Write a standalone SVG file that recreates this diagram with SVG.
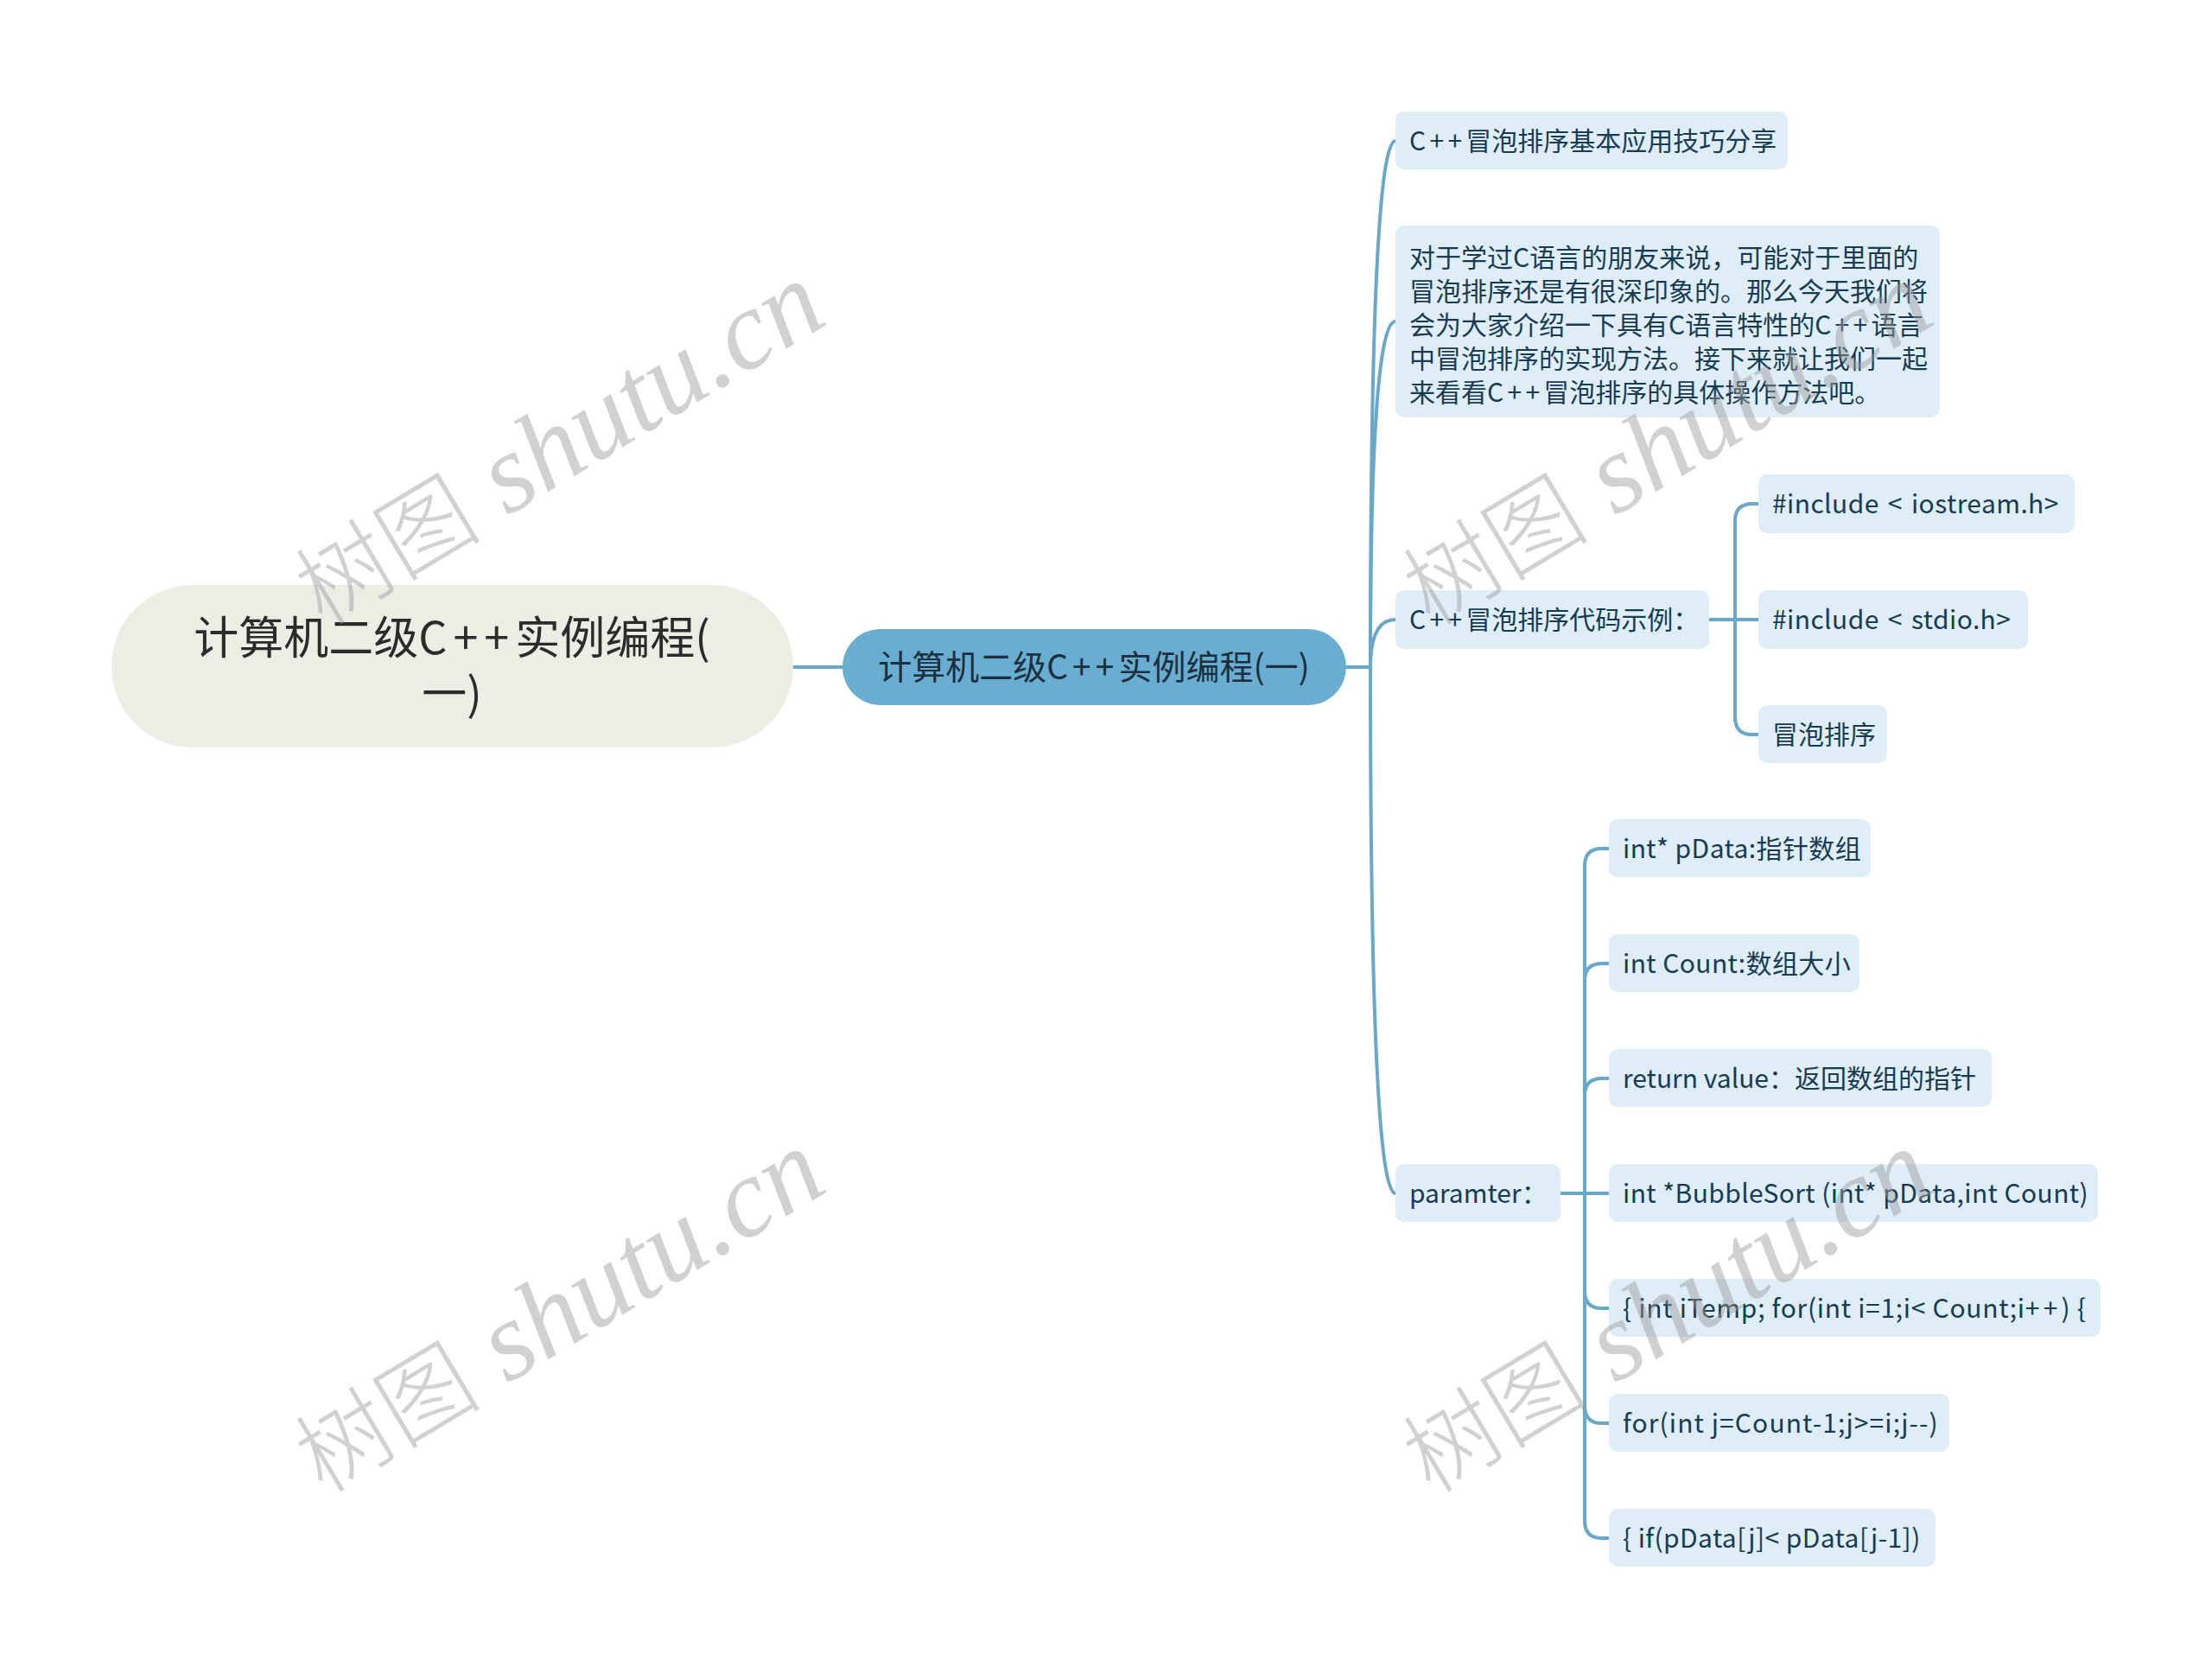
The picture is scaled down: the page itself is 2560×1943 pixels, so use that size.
<svg xmlns="http://www.w3.org/2000/svg" width="2560" height="1943" viewBox="0 0 2560 1943">
<style>
.bg{fill:#ffffff}
.conn{fill:none;stroke:#6aa8ca;stroke-width:4;stroke-linecap:round}
.box{fill:#deedf6}
.t{font-family:"Noto Sans CJK SC","Noto Sans",sans-serif;font-size:30px;fill:#173b52}
.lat{letter-spacing:0.4px}
.pp{letter-spacing:4.3px}
.root{fill:#eeede5}
.roott{font-family:"Noto Sans CJK SC","Noto Sans",sans-serif;font-size:52px;fill:#2b2b2b;text-anchor:middle}
.rpp{letter-spacing:7px}
.main{fill:#69aed0}
.maint{font-family:"Noto Sans CJK SC","Noto Sans",sans-serif;font-size:39px;fill:#1c2f40;text-anchor:middle}
.mpp{letter-spacing:5px}
.wm{fill:#9a9a9a;opacity:0.45;text-anchor:middle}
.wmc{font-family:"Noto Sans CJK SC",serif;font-size:108px;font-weight:300}
.wml{font-family:"Liberation Serif",serif;font-style:italic;font-size:130px}
</style>
<rect class="bg" x="0" y="0" width="2560" height="1943"/>
<g id="connectors">
<path class="conn" d="M917 772 H975"/>
<path class="conn" d="M1557 772 H1586 Q1586 163 1615 163"/>
<path class="conn" d="M1586 772 Q1586 372 1615 372"/>
<path class="conn" d="M1586 772 Q1586 717 1615 717"/>
<path class="conn" d="M1586 772 Q1586 1381 1615 1381"/>
<path class="conn" d="M1978 717 H2036"/>
<path class="conn" d="M2008 717 V603 Q2008 583 2028 583 H2036"/>
<path class="conn" d="M2008 717 V830 Q2008 850 2028 850 H2036"/>
<path class="conn" d="M1806 1381 H1862"/>
<path class="conn" d="M1834 1381 V1002 Q1834 982 1854 982 H1862"/>
<path class="conn" d="M1834 1381 V1135 Q1834 1115 1854 1115 H1862"/>
<path class="conn" d="M1834 1381 V1268 Q1834 1248 1854 1248 H1862"/>
<path class="conn" d="M1834 1381 V1494 Q1834 1514 1854 1514 H1862"/>
<path class="conn" d="M1834 1381 V1627 Q1834 1647 1854 1647 H1862"/>
<path class="conn" d="M1834 1381 V1760 Q1834 1780 1854 1780 H1862"/>
</g>
<g id="root">
<rect class="root" x="129" y="677" width="789" height="188" rx="94"/>
<text class="roott" x="523" y="757">计算机二级<tspan class="rpp">C++</tspan>实例编程(<tspan x="523" y="822">一)</tspan></text>
</g>
<g id="main">
<rect class="main" x="975" y="728" width="583" height="88" rx="44"/>
<text class="maint" x="1266" y="786">计算机二级<tspan class="mpp">C++</tspan>实例编程(一)</text>
</g>
<g id="n1">
<rect class="box" x="1615" y="129" width="454" height="67" rx="10"/>
<text class="t" x="1631" y="174"><tspan class="pp">C++</tspan>冒泡排序基本应用技巧分享</text>
</g>
<g id="n2">
<rect class="box" x="1615" y="261" width="630" height="222" rx="10"/>
<text class="t" x="1631" y="309">对于学过C语言的朋友来说，可能对于里面的</text>
<text class="t" x="1631" y="348">冒泡排序还是有很深印象的。那么今天我们将</text>
<text class="t" x="1631" y="387">会为大家介绍一下具有C语言特性的<tspan class="pp">C++</tspan>语言</text>
<text class="t" x="1631" y="426">中冒泡排序的实现方法。接下来就让我们一起</text>
<text class="t" x="1631" y="465">来看看<tspan class="pp">C++</tspan>冒泡排序的具体操作方法吧。</text>
</g>
<g id="n3">
<rect class="box" x="1615" y="683" width="363" height="68" rx="10"/>
<text class="t" x="1631" y="728"><tspan class="pp">C++</tspan>冒泡排序代码示例：</text>
</g>
<g id="n3a">
<rect class="box" x="2035" y="549" width="366" height="68" rx="10"/>
<text class="t lat" x="2051" y="594" word-spacing="3">#include &lt; iostream.h&gt;</text>
</g>
<g id="n3b">
<rect class="box" x="2035" y="683" width="312" height="68" rx="10"/>
<text class="t lat" x="2051" y="728" word-spacing="3">#include &lt; stdio.h&gt;</text>
</g>
<g id="n3c">
<rect class="box" x="2035" y="816" width="149" height="67" rx="10"/>
<text class="t" x="2051" y="861">冒泡排序</text>
</g>
<g id="n4">
<rect class="box" x="1615" y="1347" width="191" height="67" rx="10"/>
<text class="t" x="1631" y="1392">paramter：</text>
</g>
<g id="n4a">
<rect class="box" x="1862" y="948" width="303" height="67" rx="10"/>
<text class="t lat" x="1878" y="993">int* pData:指针数组</text>
</g>
<g id="n4b">
<rect class="box" x="1862" y="1081" width="290" height="67" rx="10"/>
<text class="t lat" x="1878" y="1126">int Count:数组大小</text>
</g>
<g id="n4c">
<rect class="box" x="1862" y="1214" width="443" height="67" rx="10"/>
<text class="t" x="1878" y="1259">return value：返回数组的指针</text>
</g>
<g id="n4d">
<rect class="box" x="1862" y="1347" width="566" height="67" rx="10"/>
<text class="t lat" x="1878" y="1392">int *BubbleSort (int* pData,int Count)</text>
</g>
<g id="n4e">
<rect class="box" x="1862" y="1480" width="569" height="67" rx="10"/>
<text class="t" x="1878" y="1525" letter-spacing="0.7">{ int iTemp; for(int i=1;i&lt; Count;i<tspan class="pp">++</tspan>) {</text>
</g>
<g id="n4f">
<rect class="box" x="1862" y="1613" width="394" height="67" rx="10"/>
<text class="t" x="1878" y="1658" letter-spacing="1.1">for(int j=Count-1;j&gt;=i;j--)</text>
</g>
<g id="n4g">
<rect class="box" x="1862" y="1746" width="378" height="67" rx="10"/>
<text class="t lat" x="1878" y="1791">{ if(pData[j]&lt; pData[j-1])</text>
</g>
<g id="watermarks">
<text class="wm" transform="translate(647,515) rotate(-31)" y="40"><tspan class="wmc">树图</tspan><tspan class="wml"> shutu.cn</tspan></text>
<text class="wm" transform="translate(1929,515) rotate(-31)" y="40"><tspan class="wmc">树图</tspan><tspan class="wml"> shutu.cn</tspan></text>
<text class="wm" transform="translate(647,1519) rotate(-31)" y="40"><tspan class="wmc">树图</tspan><tspan class="wml"> shutu.cn</tspan></text>
<text class="wm" transform="translate(1929,1519) rotate(-31)" y="40"><tspan class="wmc">树图</tspan><tspan class="wml"> shutu.cn</tspan></text>
</g>
</svg>
